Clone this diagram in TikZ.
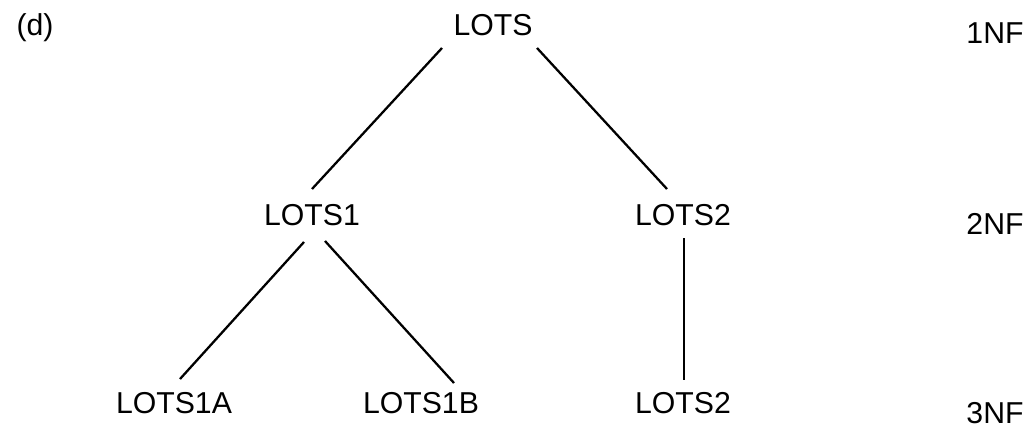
\documentclass[tikz,border=0pt]{standalone}
\usepackage{fontspec}
\setmainfont{Liberation Sans}
\usepackage{tikz}
\usetikzlibrary{calc}

\begin{document}
\begin{tikzpicture}[x=0.02cm, y=-0.02cm, font=\fontsize{17.2}{19}\selectfont,
    relname/.style={inner sep=0pt, anchor=center},
    nflabel/.style={inner sep=0pt, anchor=center},
    treeline/.style={line width=1.3pt, black}]

    \useasboundingbox (0,0) rectangle (1030,429);

    \node (tag) [relname] at (35,28) {(d)};

    % relations, one row per normal form
    \node (lots) [relname] at (493,25) {LOTS};
    \node (lots1) [relname] at (312,215) {LOTS1};
    \node (lots2) [relname] at (683,215) {LOTS2};
    \node (lots1a) [relname] at (174,403) {LOTS1A};
    \node (lots1b) [relname] at (421,403) {LOTS1B};
    \node (lots2b) [relname] at (683,403) {LOTS2};

    \node (nf1) [nflabel] at (995,33) {1NF};
    \node (nf2) [nflabel] at (995,224) {2NF};
    \node (nf3) [nflabel] at (995,413) {3NF};

    \draw [treeline] ($(lots)+(-51,23)$) -- ($(lots1)+(0,-26)$);
    \draw [treeline] ($(lots)+(44,23)$) -- ($(lots2)+(-16,-26)$);
    \draw [treeline] ($(lots1)+(-8,27)$) -- ($(lots1a)+(6,-24)$);
    \draw [treeline] ($(lots1)+(13,26)$) -- ($(lots1b)+(33,-20)$);
    \draw [treeline] ($(lots2)+(1,23)$) -- ($(lots2b)+(1,-23)$);
\end{tikzpicture}
\end{document}
